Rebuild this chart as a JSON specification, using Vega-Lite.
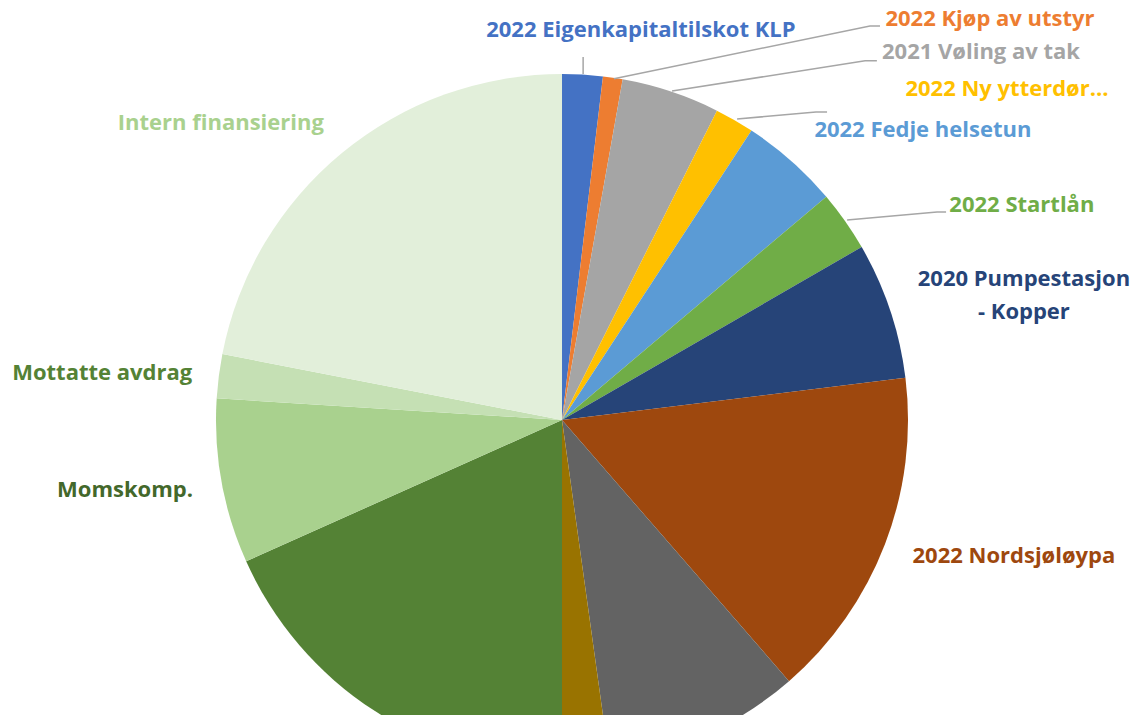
{
  "$schema": "https://vega.github.io/schema/vega-lite/v6.json",
  "width": 1137,
  "height": 715,
  "padding": 0,
  "autosize": {"type": "none"},
  "background": "white",
  "config": {"view": {"stroke": null}},
  "datasets": {
    "slices": [
      {"i": 1, "name": "2022 Eigenkapitaltilskot KLP", "value": 6.8},
      {"i": 2, "name": "2022 Kjøp av utstyr", "value": 3.3},
      {"i": 3, "name": "2021 Vøling av tak", "value": 16.5},
      {"i": 4, "name": "2022 Ny ytterdør…", "value": 6.6},
      {"i": 5, "name": "2022 Fedje helsetun", "value": 16.6},
      {"i": 6, "name": "2022 Startlån", "value": 10.2},
      {"i": 7, "name": "2020 Pumpestasjon - Kopper", "value": 23.0},
      {"i": 8, "name": "2022 Nordsjøløypa", "value": 56.0},
      {"i": 9, "name": "Post 9", "value": 33.1},
      {"i": 10, "name": "Post 10", "value": 7.9},
      {"i": 11, "name": "Post 11", "value": 65.9},
      {"i": 12, "name": "Momskomp.", "value": 27.7},
      {"i": 13, "name": "Mottatte avdrag", "value": 7.4},
      {"i": 14, "name": "Intern finansiering", "value": 79.0}
    ],
    "labels": [
      {"name": "2022 Eigenkapitaltilskot KLP", "text": "2022 Eigenkapitaltilskot KLP", "u": 0.228, "v": 1.127},
      {"name": "2022 Kjøp av utstyr", "text": "2022 Kjøp av utstyr", "u": 1.237, "v": 1.159},
      {"name": "2021 Vøling av tak", "text": "2021 Vøling av tak", "u": 1.211, "v": 1.064},
      {"name": "2022 Ny ytterdør…", "text": "2022 Ny ytterdør…", "u": 1.286, "v": 0.957},
      {"name": "2022 Fedje helsetun", "text": "2022 Fedje helsetun", "u": 1.043, "v": 0.838},
      {"name": "2022 Startlån", "text": "2022 Startlån", "u": 1.329, "v": 0.621},
      {"name": "2020 Pumpestasjon - Kopper", "text": "2020 Pumpestasjon\n- Kopper", "u": 1.335, "v": 0.407},
      {"name": "2022 Nordsjøløypa", "text": "2022 Nordsjøløypa", "u": 1.306, "v": -0.393},
      {"name": "Intern finansiering", "text": "Intern finansiering", "u": -0.986, "v": 0.858},
      {"name": "Mottatte avdrag", "text": "Mottatte avdrag", "u": -1.329, "v": 0.136},
      {"name": "Momskomp.", "text": "Momskomp.", "u": -1.263, "v": -0.202}
    ],
    "leaders": [
      {"name": "2022 Eigenkapitaltilskot KLP", "k": 1, "u": 0.061, "v": 1.0},
      {"name": "2022 Eigenkapitaltilskot KLP", "k": 2, "u": 0.061, "v": 1.049},
      {"name": "2022 Kjøp av utstyr", "k": 1, "u": 0.150, "v": 0.986},
      {"name": "2022 Kjøp av utstyr", "k": 2, "u": 0.890, "v": 1.139},
      {"name": "2022 Kjøp av utstyr", "k": 3, "u": 0.919, "v": 1.139},
      {"name": "2021 Vøling av tak", "k": 1, "u": 0.318, "v": 0.951},
      {"name": "2021 Vøling av tak", "k": 2, "u": 0.876, "v": 1.038},
      {"name": "2021 Vøling av tak", "k": 3, "u": 0.910, "v": 1.038},
      {"name": "2022 Ny ytterdør…", "k": 1, "u": 0.506, "v": 0.870},
      {"name": "2022 Ny ytterdør…", "k": 2, "u": 0.734, "v": 0.890},
      {"name": "2022 Ny ytterdør…", "k": 3, "u": 0.766, "v": 0.890},
      {"name": "2022 Startlån", "k": 1, "u": 0.824, "v": 0.578},
      {"name": "2022 Startlån", "k": 2, "u": 1.084, "v": 0.601},
      {"name": "2022 Startlån", "k": 3, "u": 1.110, "v": 0.601}
    ]
  },
  "resolve": {"scale": {"color": "independent"}},
  "layer": [
    {
      "mark": {"type": "arc", "outerRadius": 353, "theta": 0, "theta2": 6.2832, "fill": "#000000", "opacity": 0.025},
      "encoding": {
        "x": {"datum": 0, "type": "quantitative", "scale": {"domain": [-1.6243, 1.6618], "nice": false, "zero": false}, "axis": null},
        "y": {"datum": 0, "type": "quantitative", "scale": {"domain": [-0.8526, 1.2139], "nice": false, "zero": false}, "axis": null}
      }
    },
    {
      "mark": {"type": "arc", "outerRadius": 350, "theta": 0, "theta2": 6.2832, "fill": "#000000", "opacity": 0.035},
      "encoding": {
        "x": {"datum": 0, "type": "quantitative"},
        "y": {"datum": 0, "type": "quantitative"}
      }
    },
    {
      "mark": {"type": "arc", "outerRadius": 348, "theta": 0, "theta2": 6.2832, "fill": "#000000", "opacity": 0.05},
      "encoding": {
        "x": {"datum": 0, "type": "quantitative"},
        "y": {"datum": 0, "type": "quantitative"}
      }
    },
    {
      "data": {"name": "slices"},
      "mark": {"type": "arc", "outerRadius": 346},
      "encoding": {
        "x": {"datum": 0, "type": "quantitative"},
        "y": {"datum": 0, "type": "quantitative"},
        "theta": {"field": "value", "type": "quantitative", "stack": true},
        "order": {"field": "i", "type": "quantitative", "sort": "ascending"},
        "color": {
          "field": "name",
          "type": "nominal",
          "legend": null,
          "scale": {
            "domain": ["2022 Eigenkapitaltilskot KLP", "2022 Kjøp av utstyr", "2021 Vøling av tak", "2022 Ny ytterdør…", "2022 Fedje helsetun", "2022 Startlån", "2020 Pumpestasjon - Kopper", "2022 Nordsjøløypa", "Post 9", "Post 10", "Post 11", "Momskomp.", "Mottatte avdrag", "Intern finansiering"],
            "range": ["#4472C4", "#ED7D31", "#A5A5A5", "#FFC000", "#5B9BD5", "#70AD47", "#264478", "#9E480E", "#636363", "#997300", "#548235", "#A9D18E", "#C5E0B4", "#E2EFDA"]
          }
        }
      }
    },
    {
      "data": {"name": "leaders"},
      "mark": {"type": "line", "color": "#A6A6A6", "strokeWidth": 1.5},
      "encoding": {
        "x": {"field": "u", "type": "quantitative"},
        "y": {"field": "v", "type": "quantitative"},
        "detail": {"field": "name"},
        "order": {"field": "k", "type": "quantitative"}
      }
    },
    {
      "data": {"name": "labels"},
      "mark": {"type": "text", "font": "Open Sans", "fontWeight": "bold", "fontSize": 22, "align": "center", "baseline": "middle", "lineBreak": "\n", "lineHeight": 33},
      "encoding": {
        "x": {"field": "u", "type": "quantitative"},
        "y": {"field": "v", "type": "quantitative"},
        "text": {"field": "text"},
        "color": {
          "field": "name",
          "type": "nominal",
          "legend": null,
          "scale": {
            "domain": ["2022 Eigenkapitaltilskot KLP", "2022 Kjøp av utstyr", "2021 Vøling av tak", "2022 Ny ytterdør…", "2022 Fedje helsetun", "2022 Startlån", "2020 Pumpestasjon - Kopper", "2022 Nordsjøløypa", "Intern finansiering", "Mottatte avdrag", "Momskomp."],
            "range": ["#4472C4", "#ED7D31", "#A5A5A5", "#FFC000", "#5B9BD5", "#70AD47", "#264478", "#9E480E", "#A9D18E", "#548235", "#43682B"]
          }
        }
      }
    },
    {
      "mark": {"type": "rule", "color": "#262626", "strokeWidth": 5},
      "encoding": {
        "y": {"datum": 1.2139, "type": "quantitative"}
      }
    }
  ]
}
